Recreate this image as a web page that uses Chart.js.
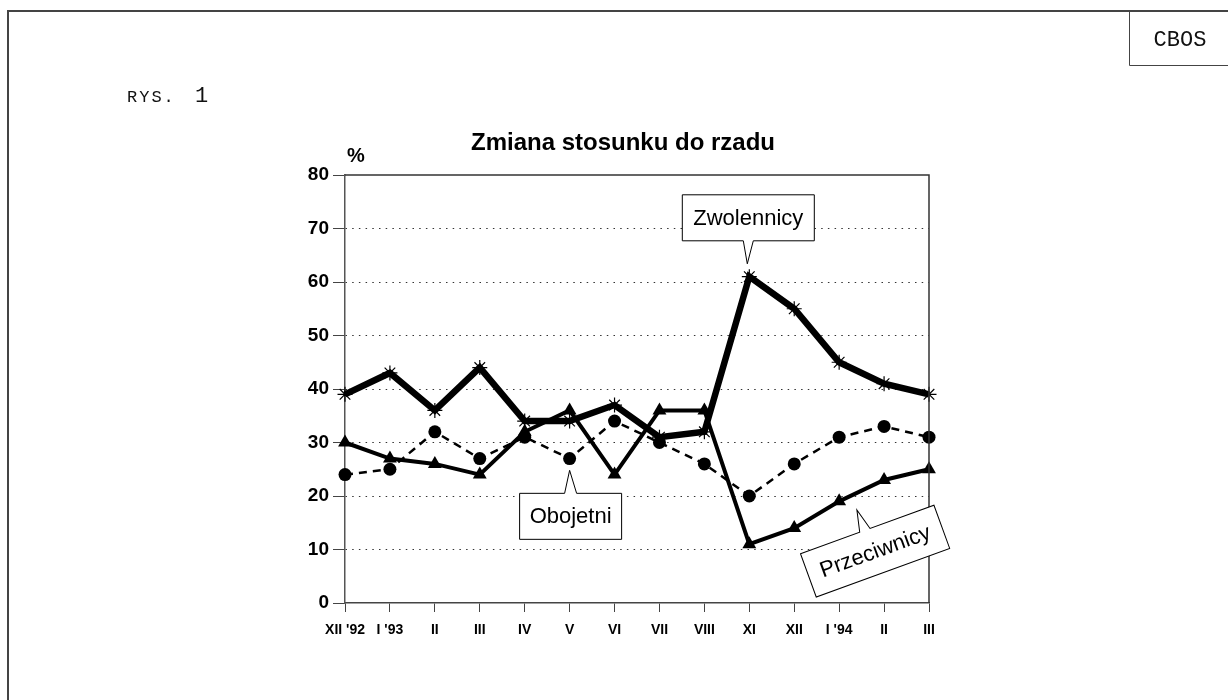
<!DOCTYPE html>
<html>
<head>
<meta charset="utf-8">
<script src="https://cdn.jsdelivr.net/npm/chart.js@4/dist/chart.umd.min.js"></script>
<style>
  html, body { margin: 0; padding: 0; background: #fff; }
  #wrap { position: relative; width: 1228px; height: 700px; }
</style>
</head>
<body>
<div id="wrap"><canvas id="rzad" width="1228" height="700"></canvas></div>
<script>
// months (XII 1992 - III 1994)
const months = ["XII '92", "I '93", "II", "III", "IV", "V", "VI", "VII", "VIII", "XI", "XII", "I '94", "II", "III"];

// % of respondents
const zwolennicy  = [39, 43, 36, 44, 34, 34, 37, 31, 32, 61, 55, 45, 41, 39];
const obojetni    = [24, 25, 32, 27, 31, 27, 34, 30, 26, 20, 26, 31, 33, 31];
const przeciwnicy = [30, 27, 26, 24, 32, 36, 24, 36, 36, 11, 14, 19, 23, 25];

const yTicks = [0, 10, 20, 30, 40, 50, 60, 70, 80];

const FONT = "'Liberation Sans', Arial, sans-serif";
const MONO = "'Liberation Mono', 'Courier New', monospace";

// callout box, drawn in local coords around (cx, cy)
function callout(ctx, o) {
  const w = o.w / 2, h = o.h / 2;
  ctx.save();
  ctx.translate(o.cx, o.cy);
  ctx.rotate(o.angle || 0);
  ctx.beginPath();
  if (o.side === 'top') {
    ctx.moveTo(-w, -h);
    ctx.lineTo(o.b1, -h);
    ctx.lineTo(o.tx, o.ty);
    ctx.lineTo(o.b2, -h);
    ctx.lineTo(w, -h);
    ctx.lineTo(w, h);
    ctx.lineTo(-w, h);
  } else {
    ctx.moveTo(-w, -h);
    ctx.lineTo(w, -h);
    ctx.lineTo(w, h);
    ctx.lineTo(o.b2, h);
    ctx.lineTo(o.tx, o.ty);
    ctx.lineTo(o.b1, h);
    ctx.lineTo(-w, h);
  }
  ctx.closePath();
  ctx.fillStyle = '#fff';
  ctx.fill();
  ctx.lineWidth = 1;
  ctx.strokeStyle = '#000';
  ctx.stroke();
  ctx.fillStyle = '#000';
  ctx.font = '22px ' + FONT;
  ctx.textAlign = 'center';
  ctx.textBaseline = 'middle';
  ctx.fillText(o.text, 0, 1);
  ctx.restore();
}

const decor = {
  id: 'decor',
  beforeDraw(chart) {
    const ctx = chart.ctx;
    ctx.save();
    // page frame
    ctx.strokeStyle = '#444';
    ctx.lineWidth = 2;
    ctx.beginPath();
    ctx.moveTo(8, 700); ctx.lineTo(8, 11); ctx.lineTo(1228, 11);
    ctx.stroke();
    ctx.lineWidth = 1;
    ctx.beginPath();
    ctx.moveTo(1129.5, 11); ctx.lineTo(1129.5, 65.5); ctx.lineTo(1228, 65.5);
    ctx.stroke();
    ctx.fillStyle = '#111';
    ctx.font = '22px ' + MONO;
    ctx.textAlign = 'center';
    ctx.textBaseline = 'middle';
    ctx.fillText('CBOS', 1180, 40);
    ctx.textAlign = 'left';
    ctx.textBaseline = 'alphabetic';
    ctx.font = '17px ' + MONO;
    ctx.letterSpacing = '2px';
    ctx.fillText('RYS.', 127, 102);
    ctx.letterSpacing = '0px';
    ctx.font = '22px ' + MONO;
    ctx.fillText('1', 195, 102);
    // title and unit
    ctx.fillStyle = '#000';
    ctx.font = 'bold 24px ' + FONT;
    ctx.textAlign = 'center';
    ctx.textBaseline = 'middle';
    ctx.fillText('Zmiana stosunku do rzadu', 623, 143);
    ctx.font = 'bold 20px ' + FONT;
    ctx.textAlign = 'left';
    ctx.fillText('%', 347, 156);
    ctx.restore();
  },
  afterDraw(chart) {
    const ctx = chart.ctx;
    const a = chart.chartArea;
    const x = chart.scales.x, y = chart.scales.y;
    ctx.save();
    ctx.strokeStyle = '#333';
    ctx.lineWidth = 1.5;
    ctx.beginPath();
    ctx.moveTo(a.left, a.top); ctx.lineTo(a.right, a.top); ctx.lineTo(a.right, a.bottom);
    ctx.stroke();
    ctx.restore();

    callout(ctx, {
      text: 'Zwolennicy', side: 'bottom', w: 132, h: 46,
      cx: x.getPixelForValue(9) - 1, cy: y.getPixelForValue(72),
      b1: -5, b2: 5, tx: -1, ty: 46
    });
    callout(ctx, {
      text: 'Obojetni', side: 'top', w: 102, h: 46,
      cx: x.getPixelForValue(5) + 1, cy: y.getPixelForValue(16.2),
      b1: -6, b2: 6, tx: -1, ty: -46
    });
    callout(ctx, {
      text: 'Przeciwnicy', side: 'top', w: 142, h: 46, angle: -20 * Math.PI / 180,
      cx: x.getPixelForValue(11.8), cy: y.getPixelForValue(9.7),
      b1: -8, b2: 3, tx: -3, ty: -45
    });
  }
};

new Chart(document.getElementById('rzad').getContext('2d'), {
  type: 'line',
  data: {
    labels: months,
    datasets: [
      {
        label: 'Zwolennicy',
        data: zwolennicy,
        borderColor: '#000',
        borderWidth: 6.5,
        pointStyle: 'star',
        pointRadius: 7.5,
        pointBorderWidth: 1.2,
        pointBorderColor: '#000',
        pointBackgroundColor: '#000',
        tension: 0,
        clip: false
      },
      {
        label: 'Przeciwnicy',
        data: przeciwnicy,
        borderColor: '#000',
        borderWidth: 4,
        pointStyle: 'triangle',
        pointRadius: 8,
        pointBorderWidth: 0,
        pointBackgroundColor: '#000',
        tension: 0,
        clip: false
      },
      {
        label: 'Obojetni',
        data: obojetni,
        borderColor: '#000',
        borderWidth: 2.5,
        borderDash: [8, 6],
        pointStyle: 'circle',
        pointRadius: 6.5,
        pointBorderWidth: 0,
        pointBackgroundColor: '#000',
        tension: 0,
        clip: false
      }
    ]
  },
  options: {
    responsive: false,
    animation: false,
    events: [],
    layout: { padding: { left: 295, right: 299, top: 175, bottom: 0 } },
    plugins: {
      legend: { display: false },
      tooltip: { enabled: false },
      title: { display: false }
    },
    scales: {
      x: {
        offset: false,
        afterFit: s => { s.height = 97; },
        grid: {
          offset: false,
          drawOnChartArea: false,
          drawTicks: true,
          tickLength: 9,
          tickColor: '#444',
          tickWidth: 1
        },
        border: { display: true, color: '#444', width: 1.5 },
        ticks: {
          autoSkip: false,
          maxRotation: 0,
          minRotation: 0,
          padding: 10,
          color: '#000',
          font: { family: FONT, size: 14, weight: 'bold' }
        }
      },
      y: {
        min: 0,
        max: 80,
        afterFit: s => { s.width = 50; },
        afterBuildTicks: s => { s.ticks = yTicks.map(v => ({ value: v })); },
        grid: {
          color: c => (c.tick && (c.tick.value === 0 || c.tick.value === 80)) ? 'rgba(0,0,0,0)' : '#333',
          lineWidth: 1,
          tickLength: 12,
          tickColor: '#444',
          tickWidth: 1
        },
        border: { display: true, color: '#555', width: 1.5, dash: [1.5, 5.2] },
        ticks: {
          padding: 4,
          color: '#000',
          font: { family: FONT, size: 19, weight: 'bold' }
        }
      }
    }
  },
  plugins: [decor]
});
</script>
</body>
</html>
